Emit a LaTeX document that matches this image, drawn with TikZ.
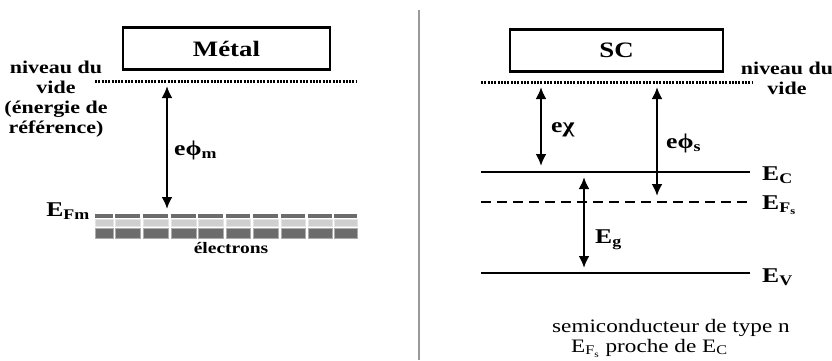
\documentclass[tikz,border=0pt]{standalone}
\usepackage{fontspec}
\setmainfont{Liberation Serif}[FakeStretch=1.22]
\usetikzlibrary{positioning, calc, arrows.meta}

\begin{document}
\begin{tikzpicture}[x=1pt,y=-1pt,
  box/.style={rectangle,draw,line width=2.6pt,minimum width=207pt,minimum height=42pt,font=\fontsize{22}{24}\selectfont\bfseries},
  lab/.style={font=\fontsize{18}{20}\selectfont\bfseries,inner sep=0pt,align=center},
  elab/.style={font=\fontsize{21}{24}\selectfont\bfseries,inner sep=0pt},
  level/.style={-, line width=2.8pt},
  vide/.style={-, line width=3pt, dash pattern=on 2pt off 1.3pt},
  gap/.style={{Latex[length=12pt,width=11pt]}-{Latex[length=12pt,width=11pt]}, line width=2.8pt}]
\useasboundingbox (0,0) rectangle (832,360);

% metal
\node (metal) [box] at (226.5,48.5) {Métal};
\coordinate (v1a) at (95,81);
\coordinate (v1b) at (357,81);
\draw [vide] (v1a) -- (v1b);
\node (niv1) [lab] at (56,99) {niveau du\\vide\\(énergie de\\référence)};
% electrons band
\foreach \xa/\xb in {95/113, 115/140, 143/168, 171/196, 198/223, 226/250, 253/278, 281/305, 308/332, 334/357} {
  \fill [gray!85!black] (\xa,213.5) rectangle (\xb,218);
  \filldraw [fill=gray!38, draw=gray!22, line width=0.6pt] (\xa,219.5) rectangle (\xb,226.5);
  \filldraw [fill=gray!85!black, draw=gray!65, line width=0.5pt] (\xa,228) rectangle (\xb,238);
}
\node (efm) [elab, anchor=east] at (90,211) {E\textsubscript{Fm}};
\node (elec) [lab, font=\fontsize{16}{18}\selectfont\bfseries] at (231,248) {électrons};
\coordinate (m1) at (167,86);
\coordinate (m2) at (167,209);
\draw [gap] (m1) -- (m2);
\node (phim) [elab, anchor=west] at (174,150) {eϕ\textsubscript{m}};

% separation
\coordinate (s1) at (419,10);
\coordinate (s2) at (419,360);
\draw [-, gray!80, line width=2pt] (s1) -- (s2);

% semiconductor
\node (sc) [box, minimum width=213pt] at (616.5,50.5) {SC};
\coordinate (v2a) at (481,82);
\coordinate (v2b) at (752,82);
\draw [vide] (v2a) -- (v2b);
\node (niv2) [lab, anchor=north] at (787,62) {niveau du\\vide};
\coordinate (ca) at (481,172);
\coordinate (cb) at (750,172);
\draw [level] (ca) -- (cb);
\coordinate (fa) at (481,202);
\coordinate (fb) at (750,202);
\draw [level, dash pattern=on 10pt off 6pt] (fa) -- (fb);
\coordinate (va) at (481,273);
\coordinate (vb) at (750,273);
\draw [level] (va) -- (vb);
\node (ec) [elab, anchor=west] at (762,175) {E\textsubscript{C}};
\node (efs) [elab, anchor=west] at (762,205) {E\textsubscript{F\textsubscript{s}}};
\node (ev) [elab, anchor=west] at (762,277) {E\textsubscript{V}};

\coordinate (c1) at (541,87);
\coordinate (c2) at (541,166);
\draw [gap] (c1) -- (c2);
\node (chi) [elab, anchor=west] at (551,130) {eχ};
\coordinate (p1) at (657,87);
\coordinate (p2) at (657,196);
\draw [gap] (p1) -- (p2);
\node (phis) [elab, anchor=west] at (666,143) {eϕ\textsubscript{s}};
\coordinate (g1) at (584,177);
\coordinate (g2) at (584,268);
\draw [gap] (g1) -- (g2);
\node (eg) [elab, anchor=west] at (595,240) {E\textsubscript{g}};

\node (typ) [anchor=west, inner sep=0pt, font=\fontsize{19}{22}\selectfont] at (552,328) {semiconducteur de type n};
\node (proche) [anchor=west, inner sep=0pt, font=\fontsize{19}{22}\selectfont] at (571,348) {E\textsubscript{F\textsubscript{s}} proche de E\textsubscript{C}};
\end{tikzpicture}
\end{document}
